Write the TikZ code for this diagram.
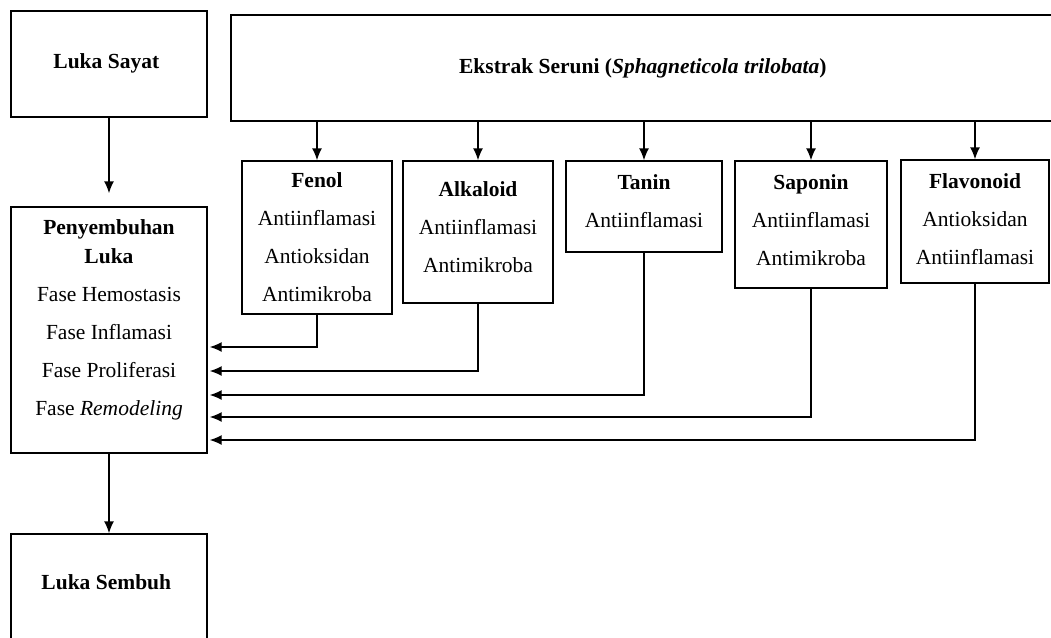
\documentclass[tikz,border=0pt]{standalone}
\usepackage{fontspec}
\setmainfont{Liberation Serif}
\usetikzlibrary{arrows.meta}

\begin{document}
\begin{tikzpicture}[x=1pt,y=-1pt,
  box/.style={draw,line width=1.4pt,inner sep=0pt,align=center,
    font=\fontsize{21.5}{25}\selectfont},
  link/.style={line width=1.4pt,-{Latex[length=12pt,width=10pt]}}]
\clip (0,0) rectangle (1051,637);

% left column
\node[box,minimum width=196pt,minimum height=106pt,text depth=6pt] (sayat) at (109,64) {
\textbf{Luka Sayat}
};

\node[box,minimum width=196pt,minimum height=246pt,text depth=25pt] (penyembuhan) at (109,330) {
\textbf{Penyembuhan}\\[4pt] \textbf{Luka}\\[13pt]
Fase Hemostasis\\[13pt] Fase Inflamasi\\[13pt]
Fase Proliferasi\\[13pt] Fase \textit{Remodeling}
};

\node[box,minimum width=196pt,minimum height=108pt,text depth=12pt] (sembuh) at (109,588) {
\textbf{Luka Sembuh}
};

\draw[link,shorten >=13pt] (sayat) to (penyembuhan);
\draw[link] (penyembuhan) to (sembuh);

% extract and its compounds
\node[box,minimum width=829pt,minimum height=106pt] (ekstrak) at (645.5,68) {
\textbf{Ekstrak Seruni (\textit{Sphagneticola trilobata})}
};

\node[box,minimum width=150pt,minimum height=153pt] (fenol) at (317,237.5) {
\textbf{Fenol}\\[13pt] Antiinflamasi\\[13pt] Antioksidan\\[13pt] Antimikroba
};

\node[box,minimum width=150pt,minimum height=142pt,text depth=10pt] (alkaloid) at (478,232) {
\textbf{Alkaloid}\\[13pt] Antiinflamasi\\[13pt] Antimikroba
};

\node[box,minimum width=156pt,minimum height=91pt,text depth=10pt] (tanin) at (644,206.5) {
\textbf{Tanin}\\[13pt] Antiinflamasi
};

\node[box,minimum width=152pt,minimum height=127pt,text depth=8pt] (saponin) at (811,224.5) {
\textbf{Saponin}\\[13pt] Antiinflamasi\\[13pt] Antimikroba
};

\node[box,minimum width=148pt,minimum height=123pt,text depth=4pt] (flavonoid) at (975,221.5) {
\textbf{Flavonoid}\\[13pt] Antioksidan\\[13pt] Antiinflamasi
};

\foreach \n in {fenol,alkaloid,tanin,saponin,flavonoid}
  \draw[link] (ekstrak.south -| \n.north) to (\n.north);

% back to the healing phases
\foreach \n/\dy in {fenol/17,alkaloid/41,tanin/65,saponin/87,flavonoid/110}
  \draw[link,shorten >=2pt] (\n.south) |- ([yshift=-\dy pt]penyembuhan.east);

\end{tikzpicture}
\end{document}
